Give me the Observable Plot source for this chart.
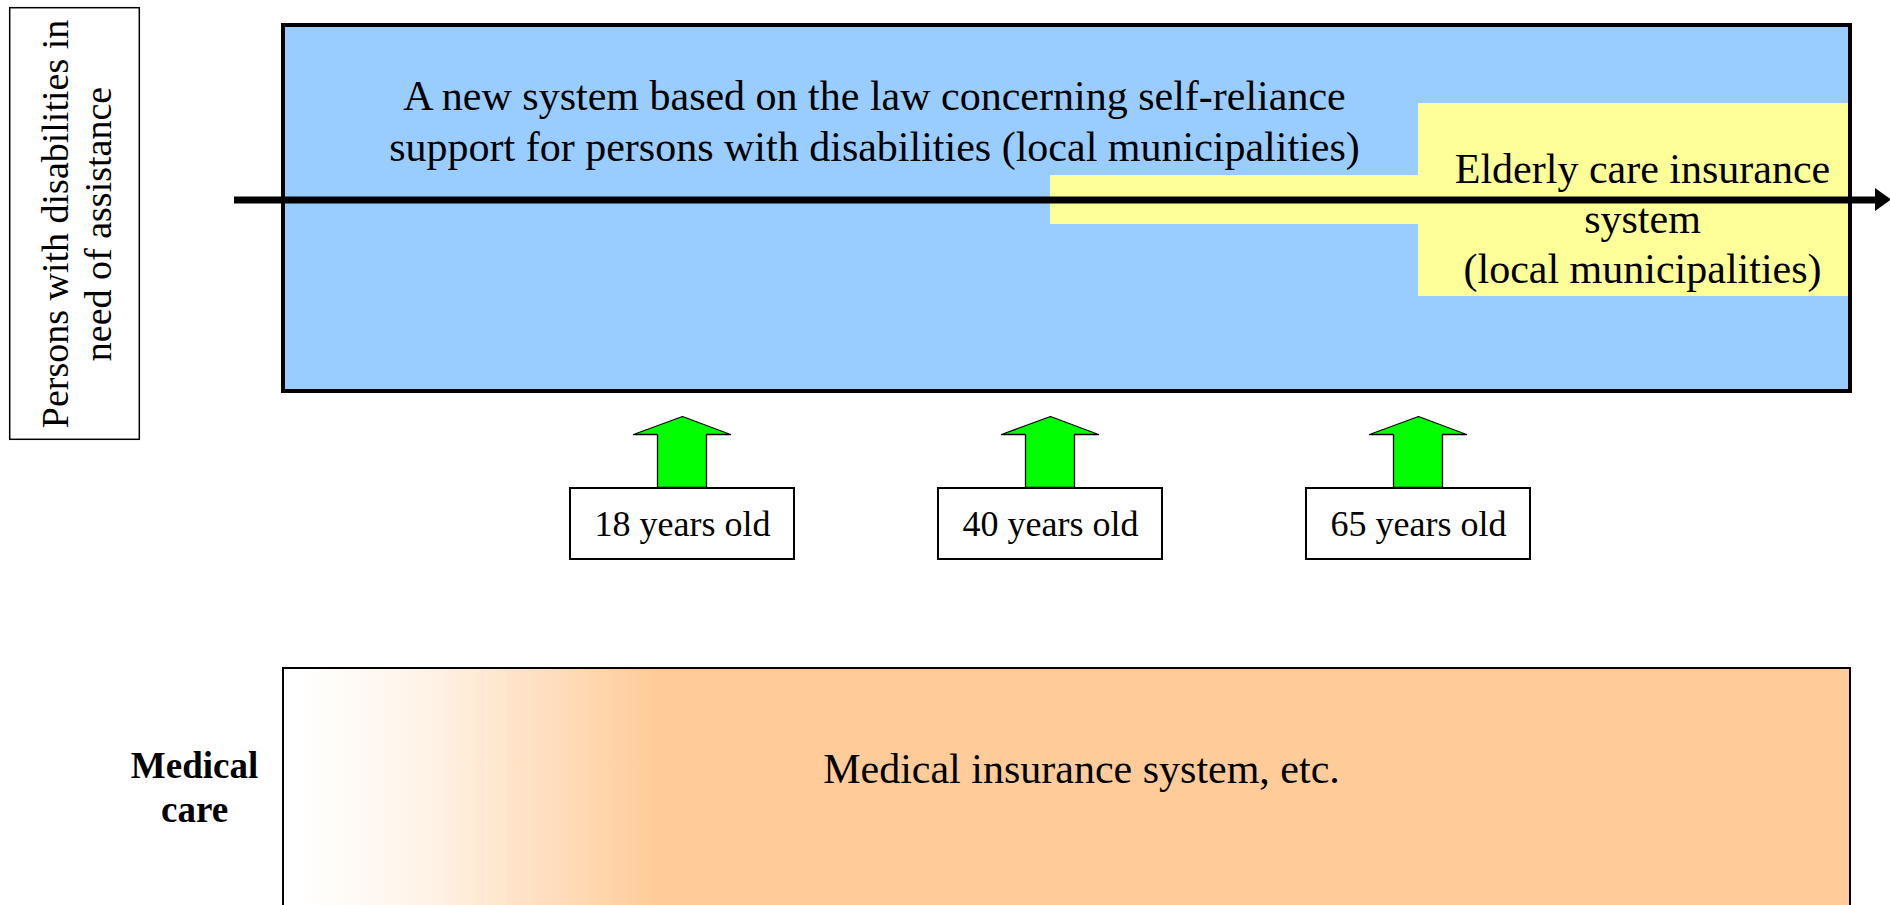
<!DOCTYPE html>
<html><head><meta charset="utf-8">
<script src="https://cdn.jsdelivr.net/npm/d3@7"></script>
<script src="https://cdn.jsdelivr.net/npm/@observablehq/plot@0.6"></script>
<style>html,body{margin:0;padding:0;background:#fff;overflow:hidden}</style>
</head><body><div id="chart"></div>
<script>
// ---- content ----
const sideLabelLines = ["Persons with disabilities in", "need of assistance"];
const newSystemLines = ["A new system based on the law concerning self-reliance",
                        "support for persons with disabilities (local municipalities)"];
const elderlyLines = ["Elderly care insurance", "system", "(local municipalities)"];
const ageLabels = ["18 years old", "40 years old", "65 years old"];
const medicalLabelLines = ["Medical", "care"];
const medicalSystemLabel = "Medical insurance system, etc.";

// ---- layout (diagram units) ----
const ageX = [682, 1050, 1418];          // position of each age marker on the timeline
const sideBox = {x1: 9.7, x2: 139.3, y1: 7.7, y2: 439.3};
const blueBox = {x1: 283, x2: 1850, y1: 25, y2: 391};
const medBox = {x1: 283, x2: 1850, y1: 668, y2: 930};
const timelineY = 199.5;

const FONT = "'Liberation Serif', 'Times New Roman', serif";

// yellow (elderly care) region: begins at 40 y.o. strip, widens from 65 y.o.
const yellowRects = [
  {x1: ageX[1], x2: ageX[2], y1: 175, y2: 224},
  {x1: ageX[2], x2: 1848, y1: 103, y2: 296}
];

// green up-arrows above each age box
const arrowPts = ageX.flatMap((cx, i) => [
  [cx - 25, 487], [cx - 25, 434], [cx - 49, 434], [cx, 416],
  [cx + 48, 434], [cx + 24, 434], [cx + 24, 487], [cx - 25, 487]
].map(([x, y]) => ({id: i, x, y})));

const ageBoxes = ageLabels.map((t, i) => ({t, x1: ageX[i] - 112, x2: ageX[i] + 112, y1: 488, y2: 559, cx: ageX[i]}));

const arrowHead = [{x: 1875, y1: 188, y2: 211}, {x: 1891, y1: 199.5, y2: 199.5}];

const fs1 = 42;
const newSysText = newSystemLines.map((t, i) => ({t, x: 874, y: [109, 160][i] - 0.32 * fs1}));
const elderlyText = elderlyLines.map((t, i) => ({t, x: 1642, y: [182, 232, 282][i] - 0.32 * fs1}));
const sideText = sideLabelLines.map((t, i) => ({t, x: [67, 110][i] - 0.32 * 38, y: 223.5}));
const medLabelText = medicalLabelLines.map((t, i) => ({t, x: 194, y: [777, 821][i] - 0.32 * 37}));

const chart = Plot.plot({
  width: 1890, height: 905, margin: 0,
  x: {domain: [0, 1890], range: [0, 1890], axis: null},
  y: {domain: [0, 905], range: [0, 905], axis: null},
  style: {background: "#fff", fontFamily: FONT},
  marks: [
    // left vertical label box
    Plot.rect([sideBox], {x1: "x1", x2: "x2", y1: "y1", y2: "y2", fill: "white", stroke: "black", strokeWidth: 1.5}),
    Plot.text(sideText, {x: "x", y: "y", text: "t", rotate: -90, fontSize: 38, fill: "black", textAnchor: "middle"}),
    // blue system box
    Plot.rect([blueBox], {x1: "x1", x2: "x2", y1: "y1", y2: "y2", fill: "#99CCFF", stroke: "black", strokeWidth: 4}),
    Plot.rect(yellowRects, {x1: "x1", x2: "x2", y1: "y1", y2: "y2", fill: "#FFFF99"}),
    // timeline arrow
    Plot.ruleY([timelineY], {x1: 234, x2: 1877, stroke: "black", strokeWidth: 7}),
    Plot.areaY(arrowHead, {x: "x", y1: "y1", y2: "y2", fill: "black"}),
    Plot.text(newSysText, {x: "x", y: "y", text: "t", fontSize: fs1, fill: "black", textAnchor: "middle"}),
    Plot.text(elderlyText, {x: "x", y: "y", text: "t", fontSize: fs1, fill: "black", textAnchor: "middle"}),
    // green arrows + age boxes
    Plot.line(arrowPts, {x: "x", y: "y", z: "id", fill: "#00FF00", stroke: "black", strokeWidth: 1.3, curve: "linear"}),
    Plot.rect(ageBoxes, {x1: "x1", x2: "x2", y1: "y1", y2: "y2", fill: "white", stroke: "black", strokeWidth: 2}),
    Plot.text(ageBoxes, {x: "cx", y: d => (d.y1 + d.y2) / 2, text: "t", fontSize: 36, fill: "black", textAnchor: "middle"}),
    // medical
    Plot.text(medLabelText, {x: "x", y: "y", text: "t", fontSize: 37, fontWeight: "bold", fill: "black", textAnchor: "middle"}),
    Plot.rect([medBox], {x1: "x1", x2: "x2", y1: "y1", y2: "y2", fill: "url(#medgrad)", stroke: "black", strokeWidth: 2}),
    Plot.text([medicalSystemLabel], {x: 1081, y: 782 - 0.32 * fs1, text: d => d, fontSize: fs1, fill: "black", textAnchor: "middle"})
  ]
});

// gradient definition for the medical box
const ns = "http://www.w3.org/2000/svg";
const defs = document.createElementNS(ns, "defs");
const grad = document.createElementNS(ns, "linearGradient");
grad.setAttribute("id", "medgrad");
grad.setAttribute("gradientUnits", "userSpaceOnUse");
grad.setAttribute("x1", "300"); grad.setAttribute("x2", "655");
grad.setAttribute("y1", "0"); grad.setAttribute("y2", "0");
[["0", "#FFFFFF"], ["0.35", "#FFF3E8"], ["1", "#FFCC99"]].forEach(([o, c]) => {
  const s = document.createElementNS(ns, "stop");
  s.setAttribute("offset", o); s.setAttribute("stop-color", c);
  grad.appendChild(s);
});
defs.appendChild(grad);
chart.insertBefore(defs, chart.firstChild);
document.getElementById("chart").appendChild(chart);
</script>
</body></html>
